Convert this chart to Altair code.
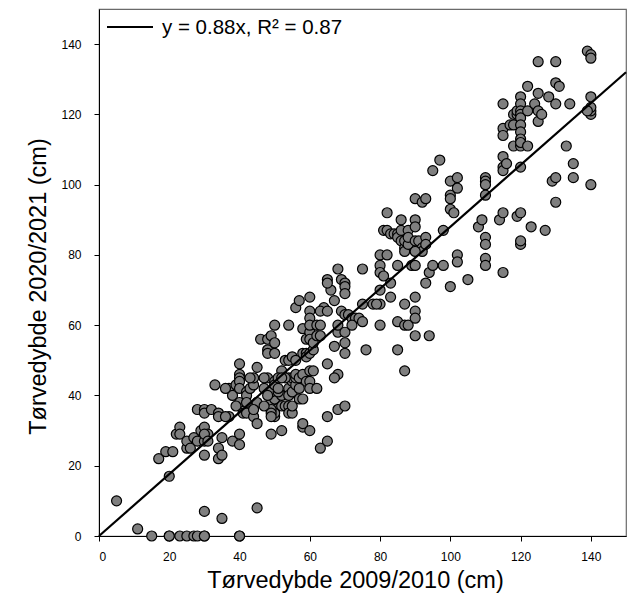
import altair as alt
import pandas as pd

# Peat depth 2009/2010 (x) vs 2020/2021 (y), cm
pts = [
    # zero / low group
    (15,0),(20,0),(20,0),(23,0),(25,0),(27,0),(28,0),(30,0),(30,0),(40,0),(40,0),
    (5,10),(11,2),(20,17),(30,7),(35,5),(45,8),
    # 17-45
    (17,22),(19,24),(21,24),(22,29),(23,31),(23,29),(25,25),(25,27),(26,25),(27,28),
    (29,30),(28,27),(28,36),(30,36),(30,35),(30,31),(30,27),(30,23),(32,36),(31,29),
    (33,43),(34,35),(34,34),(34,25),(34,22),(35,23),(35,28),(37,34),(36,34),(37,42),
    (38,40),(38,27),(36,42),(39,43),(40,26),(40,29),(40,38),(40,49),(40,46),(40,45),
    (40,44),(40,42),(41,35),(42,41),(42,40),(42,38),(42,35),(43,42),(44,43),(44,45),
    (43,45),(44,34),(45,32),(45,38),(45,48),(44,36),(39,37),(30,29),(31,27),
    # 45-62
    (46,56),(48,56),(48,53),(48,52),(49,57),(50,55),(48,45),(47,45),(47,42),(49,29),
    (48,37),(49,38),(50,42),(50,44),(50,39),(50,36),(50,34),(50,35),(50,60),(52,40),
    (52,30),(52,37),(49,36),(49,41),(48,40),(47,37),(50,43),(49,35),(51,41),(51,42),
    (53,50),(53,37),(52,47),(54,60),(54,45),(54,50),(54,42),(54,40),(54,37),(54,35),
    (55,41),(55,35),(55,37),(55,51),(55,44),(55,45),(56,43),(56,45),(56,50),(56,46),
    (56,65),(57,67),(57,39),(57,45),(58,59),(58,52),(58,31),(58,32),(58,46),(59,52),
    (59,56),(59,51),(59,44),(60,68),(60,64),(60,62),(60,58),(60,52),(60,47),(60,44),
    (60,42),(60,30),(60,56),(60,60),(61,47),(61,53),(61,55),(62,60),(62,42),(62,57),
    (50,52),(51,45),(53,45),(49,34),(52,45),(57,42),(58,39),
    # 63-79
    (63,25),(63,57),(63,60),(64,65),(63,64),(65,64),(65,73),(65,49),(65,34),(65,27),
    (66,70),(67,54),(67,67),(68,76),(68,58),(68,60),(68,46),(68,36),(69,73),(69,64),
    (70,72),(70,71),(70,69),(70,63),(70,58),(70,55),(70,52),(70,37),(71,63),(72,62),
    (73,62),(74,62),(72,60),(75,76),(75,66),(75,61),(76,53),(78,66),(65,72),(67,45),
    # 80-99
    (80,80),(80,77),(80,75),(80,70),(80,66),(80,60),(81,74),(81,87),(82,87),(82,80),
    (82,92),(83,72),(83,68),(83,86),(84,86),(85,61),(85,53),(85,77),(85,86),(85,85),
    (86,90),(86,87),(86,84),(87,66),(87,47),(87,82),(87,81),(87,84),(87,60),(88,60),
    (88,83),(88,87),(88,85),(89,77),(90,90),(90,96),(90,88),(90,84),(90,77),(90,68),
    (90,64),(90,62),(90,57),(91,84),(92,82),(92,81),(92,95),(93,96),(93,85),(93,83),
    (93,72),(94,75),(94,57),(95,104),(95,77),(97,107),(98,87),(98,77),(79,66),(90,81),
    # 100-120
    (100,101),(100,97),(100,96),(100,93),(100,71),(101,92),(102,102),(102,99),(102,80),
    (102,78),(105,73),(108,88),(109,90),(110,102),(110,101),(110,100),(110,97),(110,85),
    (110,83),(110,79),(110,77),(114,90),(115,92),(115,123),(115,116),(115,114),(115,108),
    (115,105),(115,104),(115,75),(116,106),(117,117),(118,111),(118,117),(118,120),
    (119,120),(119,121),(119,91),(120,83),(120,84),(120,92),(120,105),(120,125),(120,123),
    (120,121),(120,120),(120,119),(120,117),(120,115),(120,113),(120,111),(120,112),
    # 121-140
    (122,128),(122,121),(122,111),(123,88),(124,123),(125,135),(125,126),(125,121),
    (125,118),(126,120),(127,87),(128,125),(129,101),(130,135),(130,129),(130,123),
    (130,102),(130,95),(131,128),(133,111),(134,123),(135,106),(135,102),(139,138),
    (140,137),(140,136),(140,120),(140,121),(140,122),(140,125),(140,100),(139,121),
]

depth_2009 = [p[0] for p in pts]
depth_2020 = [p[1] for p in pts]

fit_x = [0, 150]
fit_y = [0, 132]
legend_label = ["y = 0.88x, R\u00b2 = 0.87"]

FONT = "Liberation Sans"

scatter_df = pd.DataFrame({"x": depth_2009, "y": depth_2020})
fit_df = pd.DataFrame({"x": fit_x, "y": fit_y})
leg_df = pd.DataFrame({"label": legend_label})

xscale = alt.Scale(domain=[0, 150], nice=False, zero=True)
yscale = alt.Scale(domain=[0, 150], nice=False, zero=True)

xaxis = alt.Axis(title="Tørvedybde 2009/2010 (cm)", values=[0, 20, 40, 60, 80, 100, 120, 140],
                 grid=False, domainColor="black", tickColor="black", tickSize=5,
                 labelFont=FONT, labelFontSize=12, labelColor="black", labelPadding=10,
                 titleFont=FONT, titleFontSize=23.5, titleFontWeight="normal", titleColor="black",
                 titlePadding=6, titleX=256)
yaxis = alt.Axis(title="Tørvedybde 2020/2021 (cm)", values=[0, 20, 40, 60, 80, 100, 120, 140],
                 grid=False, domainColor="black", tickColor="black", tickSize=5,
                 labelFont=FONT, labelFontSize=12, labelColor="black", labelPadding=13,
                 titleFont=FONT, titleFontSize=23.5, titleFontWeight="normal", titleColor="black",
                 titlePadding=10, titleY=277)

points = alt.Chart(scatter_df).mark_circle(
    size=100, color="#7f7f7f", opacity=1, stroke="black", strokeWidth=1.2, clip=False
).encode(
    x=alt.X("x:Q", scale=xscale, axis=xaxis),
    y=alt.Y("y:Q", scale=yscale, axis=yaxis),
)

fit = alt.Chart(fit_df).mark_line(color="black", strokeWidth=2.2).encode(
    x=alt.X("x:Q", scale=xscale),
    y=alt.Y("y:Q", scale=yscale),
)

leg_line = alt.Chart(leg_df).mark_rule(color="black", strokeWidth=2.2).encode(
    x=alt.value(8), x2=alt.value(54), y=alt.value(18)
)
leg_text = alt.Chart(leg_df).mark_text(
    align="left", baseline="middle", font=FONT, fontSize=20.5, color="black"
).encode(x=alt.value(63), y=alt.value(19), text="label:N")

chart = alt.layer(points, fit, leg_line, leg_text).properties(
    width=527, height=527,
    autosize=alt.AutoSizeParams(type="none"),
    padding={"left": 91, "top": 1, "right": 2, "bottom": 70},
).configure_view(stroke="#6a6a6a", strokeWidth=1.2)

chart.save("out.html", embed_options={"renderer": "svg", "actions": False})
